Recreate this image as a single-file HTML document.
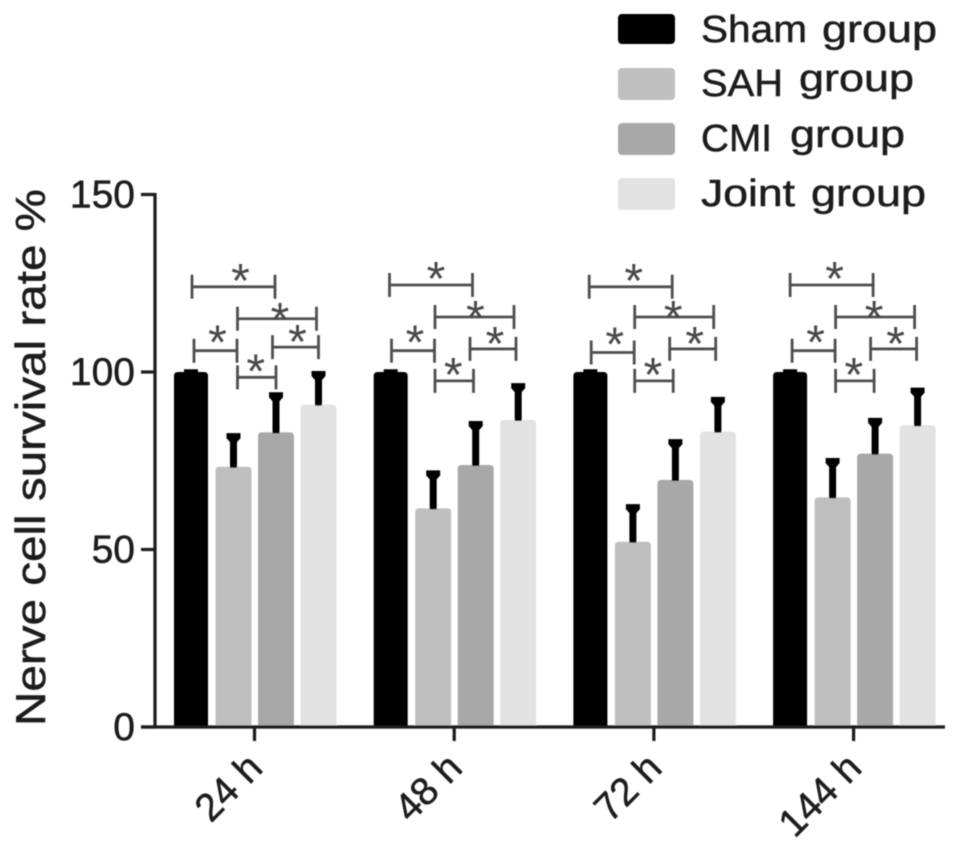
<!DOCTYPE html>
<html>
<head>
<meta charset="utf-8">
<style>
html,body{margin:0;padding:0;background:#fff;width:969px;height:847px;overflow:hidden}
svg{display:block}
text{font-family:"Liberation Sans",sans-serif;fill:#1c1c1c;stroke:#1c1c1c;stroke-width:0.5px}
</style>
</head>
<body>
<svg id="chart" width="969" height="847" viewBox="0 0 969 847" xmlns="http://www.w3.org/2000/svg">
<defs><filter id="soft" x="-2%" y="-2%" width="104%" height="104%"><feGaussianBlur stdDeviation="0.6"/></filter></defs>
<g id="root" filter="url(#soft)">
<g id="legend">
<rect x="618" y="14" width="57" height="30" rx="4" fill="#000"/>
<rect x="618" y="68" width="57" height="32" rx="4" fill="#bfbfbf"/>
<rect x="618" y="123" width="57" height="32" rx="4" fill="#a8a8a8"/>
<rect x="618" y="178" width="57" height="32" rx="4" fill="#e2e2e2"/>
<text x="701" y="42" font-size="38" textLength="106" lengthAdjust="spacingAndGlyphs">Sham</text>
<text x="822" y="42" font-size="38" textLength="115" lengthAdjust="spacingAndGlyphs">group</text>
<text x="701" y="96" font-size="38" textLength="82" lengthAdjust="spacingAndGlyphs">SAH</text>
<text x="799" y="91" font-size="38" textLength="115" lengthAdjust="spacingAndGlyphs">group</text>
<text x="701" y="151" font-size="38" textLength="71" lengthAdjust="spacingAndGlyphs">CMI</text>
<text x="790" y="147" font-size="38" textLength="115" lengthAdjust="spacingAndGlyphs">group</text>
<text x="701" y="206" font-size="38" textLength="94" lengthAdjust="spacingAndGlyphs">Joint</text>
<text x="811" y="206" font-size="38" textLength="115" lengthAdjust="spacingAndGlyphs">group</text>
</g>
<text transform="translate(45,726) rotate(-90)" font-size="42" textLength="537" lengthAdjust="spacingAndGlyphs">Nerve cell survival rate %</text>
</g>
</svg>
<script>
const categories = ['24 h', '48 h', '72 h', '144 h'];
const seriesNames = ['sham', 'sah', 'cmi', 'joint'];
const sham = [100, 100, 100, 100];
const sah = [73.3, 61.6, 52.2, 64.7];
const cmi = [83, 73.8, 69.6, 77];
const joint = [90.8, 86.5, 83.2, 85];
const shamErr = [0.5, 0.5, 0.5, 0.5];
const sahErr = [9.2, 10.4, 10.3, 10.8];
const cmiErr = [11, 12.1, 11.2, 9.8];
const jointErr = [9.2, 10.1, 9.5, 10.3];
const yTicks = [0, 50, 100, 150];
const bracketFrom = [0, 1, 0, 2, 1];
const bracketTo = [2, 3, 1, 3, 2];
const bracketLevels24 = [124, 115, 106, 107, 98.5];
const bracketLevels48 = [124.5, 115.5, 106, 106.5, 97.5];
const bracketLevels72 = [124, 115.5, 105.5, 106.5, 97.5];
const bracketLevels144 = [124.5, 115.5, 106, 106.5, 97.5];

const values = [sham, sah, cmi, joint];
const errors = [shamErr, sahErr, cmiErr, jointErr];
const levels = [bracketLevels24, bracketLevels48, bracketLevels72, bracketLevels144];
const fills = ['#000', '#bfbfbf', '#a8a8a8', '#e2e2e2'];
const NS = 'http://www.w3.org/2000/svg';
const root = document.getElementById('root');

function yScale(v) { return 727 - v * 3.55; }
function groupX(i) { return 191 + i * 199.7; }
function barX(i, j) { return groupX(i) + j * 42.5; }

function make(tag, attrs, parent) {
  const el = document.createElementNS(NS, tag);
  for (const k in attrs) el.setAttribute(k, attrs[k]);
  (parent || root).appendChild(el);
  return el;
}

// bars and error bars
categories.forEach(function (cat, i) {
  values.forEach(function (series, j) {
    const cx = barX(i, j);
    const half = j === 0 ? 17 : 18;
    const top = yScale(series[i]);
    const bar = make('path', {
      d: 'M' + (cx - half) + ' 727V' + (top + 4) + 'Q' + (cx - half) + ' ' + top + ' ' + (cx - half + 4) + ' ' + top +
         'H' + (cx + half - 4) + 'Q' + (cx + half) + ' ' + top + ' ' + (cx + half) + ' ' + (top + 4) + 'V727Z',
      fill: fills[j]
    });
    
    
    const errTop = yScale(series[i] + errors[j][i]);
    const stem = make('rect', { x: cx - 3.5, y: errTop, width: 7, height: top - errTop + 1, fill: '#000' });
    
    
    const cap = make('path', {
      d: 'M' + (cx - 7) + ' ' + (errTop - 1) + 'H' + (cx + 7) + 'V' + (errTop + 4) + 'L' + (cx + 3.5) + ' ' + (errTop + 8) + 'H' + (cx - 3.5) + 'L' + (cx - 7) + ' ' + (errTop + 4) + 'Z',
      fill: '#000'
    });
    
    
  });
});

// significance brackets: end offsets and star offsets for each bracket slot
const slotStyle = [
  { l: 1, r: -1, sx: 7, sy: -7 },
  { l: 4, r: -2, sx: 3, sy: 0 },
  { l: 3, r: 3.5, sx: 3, sy: -9 },
  { l: -3.5, r: 0, sx: 3, sy: -6 },
  { l: 4, r: 0, sx: 0, sy: -7 }
];
categories.forEach(function (cat, i) {
  const nudge = i === 0 ? 0 : (i === 3 ? -1 : -2.2);
  const starNudge = i === 0 ? 0 : (i === 1 ? -2 : -4);
  bracketFrom.forEach(function (from, k) {
    const s = slotStyle[k];
    const x1 = barX(i, from) + s.l + nudge;
    const x2 = barX(i, bracketTo[k]) + s.r + nudge;
    const y = yScale(levels[i][k]);
    const g = make('g', { stroke: '#505050', 'stroke-width': 2.8, fill: 'none' });
    
    
    make('path', { d: 'M' + x1 + ' ' + y + 'H' + x2 + 'M' + x1 + ' ' + (y - 12) + 'V' + (y + 12) + 'M' + x2 + ' ' + (y - 12) + 'V' + (y + 12) }, g);
    const star = make('text', {
      x: (x1 + x2) / 2 + s.sx + (k < 2 ? starNudge : -1),
      y: y + 17 + s.sy,
      'font-size': 48,
      'text-anchor': 'middle'
    });
    star.style.fill = '#484848';
    star.style.stroke = 'none';
    star.textContent = '*';
    
    
  });
});

// axes
const axisGroup = make('g', { stroke: '#1a1a1a', 'stroke-width': 3.2, fill: 'none' });


const yLine = make('line', { x1: 155, x2: 155, y1: yScale(150) - 1.5, y2: yScale(0) + 1.5 }, axisGroup);


const xLine = make('line', { x1: 141, x2: 945, y1: 727, y2: 727 }, axisGroup);



yTicks.forEach(function (t) {
  const y = yScale(t);
  const tick = make('line', { x1: 141, x2: 155, y1: y, y2: y }, axisGroup);
  
  
  const label = make('text', { x: 135, y: y + 13, 'font-size': 39, 'text-anchor': 'end' });
  label.textContent = String(t);
  
  
});

categories.forEach(function (cat, i) {
  const x = groupX(i) + 63.5;
  const tick = make('line', { x1: x, x2: x, y1: 727, y2: 741 }, axisGroup);
  
  
  const label = make('text', {
    transform: 'translate(' + (x + 10) + ',770) rotate(-45)',
    'font-size': 39,
    'text-anchor': 'end'
  });
  label.textContent = cat;
  
  
});
</script>
</body>
</html>
